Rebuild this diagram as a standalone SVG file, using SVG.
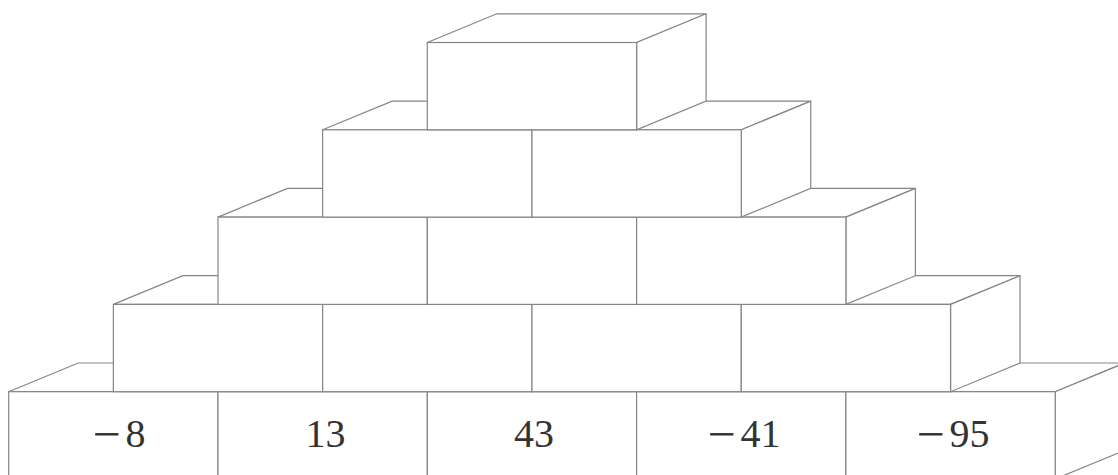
<svg xmlns="http://www.w3.org/2000/svg" xmlns:xlink="http://www.w3.org/1999/xlink" width="1118" height="475" viewBox="0 0 1118 475">
<style>
.f{fill:#ffffff;stroke:#858585;stroke-width:1.2;stroke-linejoin:miter}
.n{font-family:"Liberation Serif","DejaVu Serif",serif;font-size:40px;fill:#333333;text-anchor:middle}
.m{font-size:50px}
</style>
<defs>
<g id="brick">
<polygon class="f" points="0,0 69.5,-28.7 278.8,-28.7 209.3,0"/>
<polygon class="f" points="209.3,0 278.8,-28.7 278.8,58.6 209.3,87.3"/>
<rect class="f" x="0" y="0" width="209.3" height="87.3"/>
</g>
</defs>
<rect width="1118" height="475" fill="#ffffff"/>
<g id="row1">
<g id="b1-1"><use xlink:href="#brick" href="#brick" x="8.7" y="391.7"/><text class="n" x="119" y="447"><tspan class="m" dy="4">−</tspan><tspan dx="5" dy="-4">8</tspan></text></g>
<g id="b1-2"><use xlink:href="#brick" href="#brick" x="218" y="391.7"/><text class="n" x="325.5" y="447">13</text></g>
<g id="b1-3"><use xlink:href="#brick" href="#brick" x="427.3" y="391.7"/><text class="n" x="534" y="447">43</text></g>
<g id="b1-4"><use xlink:href="#brick" href="#brick" x="636.6" y="391.7"/><text class="n" x="744" y="447"><tspan class="m" dy="4">−</tspan><tspan dx="5" dy="-4">41</tspan></text></g>
<g id="b1-5"><use xlink:href="#brick" href="#brick" x="845.9" y="391.7"/><text class="n" x="953" y="447"><tspan class="m" dy="4">−</tspan><tspan dx="5" dy="-4">95</tspan></text></g>
</g>
<g id="row2">
<g id="b2-1"><use xlink:href="#brick" href="#brick" x="113.35" y="304.4"/></g>
<g id="b2-2"><use xlink:href="#brick" href="#brick" x="322.65" y="304.4"/></g>
<g id="b2-3"><use xlink:href="#brick" href="#brick" x="531.95" y="304.4"/></g>
<g id="b2-4"><use xlink:href="#brick" href="#brick" x="741.25" y="304.4"/></g>
</g>
<g id="row3">
<g id="b3-1"><use xlink:href="#brick" href="#brick" x="218" y="217.1"/></g>
<g id="b3-2"><use xlink:href="#brick" href="#brick" x="427.3" y="217.1"/></g>
<g id="b3-3"><use xlink:href="#brick" href="#brick" x="636.6" y="217.1"/></g>
</g>
<g id="row4">
<g id="b4-1"><use xlink:href="#brick" href="#brick" x="322.65" y="129.8"/></g>
<g id="b4-2"><use xlink:href="#brick" href="#brick" x="531.95" y="129.8"/></g>
</g>
<g id="row5">
<g id="b5-1"><use xlink:href="#brick" href="#brick" x="427.3" y="42.5"/></g>
</g>
<g id="connectors"/>
</svg>
